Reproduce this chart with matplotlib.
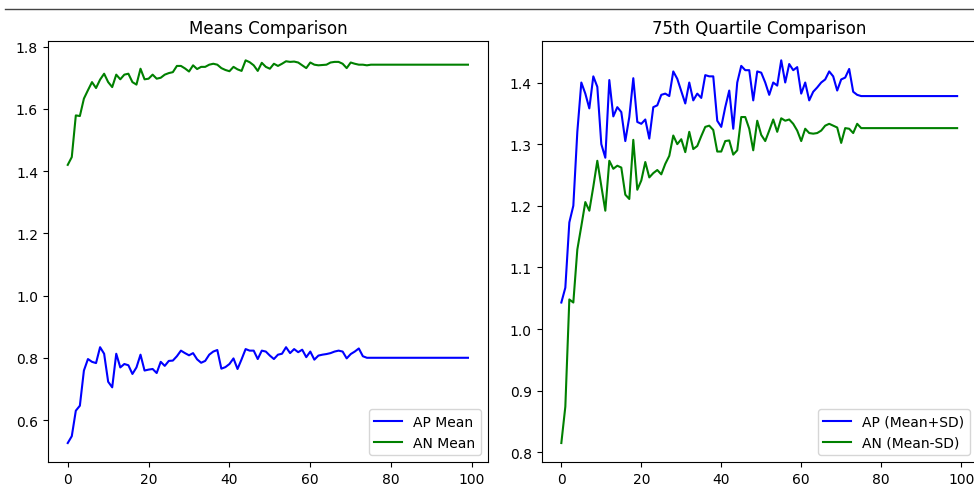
import numpy as np
import matplotlib
matplotlib.use('Agg')
from matplotlib import pyplot as plt
from matplotlib.lines import Line2D

N_STEPS = 100

# left panel: running means
ap_mean_head = [0.526, 0.548, 0.630, 0.646, 0.759, 0.796, 0.787, 0.783, 0.834, 0.813,
                0.723, 0.705, 0.813, 0.769, 0.780, 0.776, 0.748, 0.769, 0.810, 0.759,
                0.762, 0.764, 0.751, 0.787, 0.774, 0.790, 0.791, 0.805, 0.823, 0.815,
                0.808, 0.815, 0.795, 0.784, 0.790, 0.810, 0.820, 0.825, 0.765, 0.770,
                0.780, 0.798, 0.764, 0.795, 0.828, 0.823, 0.823, 0.796, 0.823, 0.820,
                0.807, 0.796, 0.810, 0.813, 0.834, 0.815, 0.828, 0.818, 0.826, 0.802,
                0.820, 0.794, 0.807, 0.810, 0.812, 0.815, 0.820, 0.823, 0.820, 0.798,
                0.812, 0.820, 0.830, 0.805, 0.800]
ap_mean_tail = 0.800

an_mean_head = [1.420, 1.445, 1.579, 1.577, 1.633, 1.660, 1.686, 1.667, 1.694, 1.713,
                1.686, 1.670, 1.710, 1.695, 1.710, 1.713, 1.686, 1.678, 1.729, 1.695,
                1.697, 1.710, 1.697, 1.700, 1.710, 1.715, 1.718, 1.738, 1.738, 1.730,
                1.720, 1.740, 1.728, 1.735, 1.735, 1.742, 1.745, 1.742, 1.731, 1.725,
                1.721, 1.735, 1.727, 1.722, 1.756, 1.750, 1.740, 1.722, 1.748, 1.735,
                1.729, 1.745, 1.738, 1.745, 1.753, 1.751, 1.752, 1.749, 1.740, 1.731,
                1.749, 1.742, 1.740, 1.741, 1.742, 1.749, 1.751, 1.751, 1.745, 1.731,
                1.749, 1.745, 1.742, 1.742, 1.740]
an_mean_tail = 1.742

# right panel: 75th quartile
ap_q75_head = [1.043, 1.067, 1.173, 1.200, 1.320, 1.400, 1.382, 1.358, 1.410, 1.393,
               1.300, 1.278, 1.404, 1.345, 1.360, 1.352, 1.305, 1.344, 1.407, 1.336,
               1.333, 1.340, 1.309, 1.360, 1.363, 1.380, 1.382, 1.378, 1.418, 1.406,
               1.386, 1.366, 1.400, 1.371, 1.382, 1.375, 1.412, 1.410, 1.410, 1.338,
               1.328, 1.360, 1.387, 1.325, 1.400, 1.427, 1.420, 1.420, 1.371, 1.418,
               1.416, 1.400, 1.380, 1.400, 1.395, 1.436, 1.400, 1.430, 1.420, 1.425,
               1.382, 1.400, 1.371, 1.385, 1.392, 1.400, 1.405, 1.418, 1.410, 1.387,
               1.405, 1.408, 1.422, 1.385, 1.380]
ap_q75_tail = 1.378

an_q75_head = [0.815, 0.874, 1.048, 1.043, 1.129, 1.167, 1.206, 1.192, 1.231, 1.273,
               1.232, 1.192, 1.273, 1.260, 1.265, 1.262, 1.218, 1.211, 1.307, 1.226,
               1.241, 1.271, 1.246, 1.253, 1.258, 1.251, 1.268, 1.281, 1.314, 1.300,
               1.308, 1.287, 1.320, 1.292, 1.297, 1.313, 1.328, 1.330, 1.323, 1.288,
               1.288, 1.305, 1.306, 1.283, 1.290, 1.344, 1.344, 1.325, 1.290, 1.338,
               1.315, 1.305, 1.322, 1.340, 1.320, 1.342, 1.338, 1.340, 1.333, 1.322,
               1.305, 1.325, 1.318, 1.317, 1.318, 1.322, 1.330, 1.333, 1.330, 1.327,
               1.302, 1.326, 1.325, 1.318, 1.333]
an_q75_tail = 1.326


def pad(head, tail, n=N_STEPS):
    """Hold the last (converged) value for the remaining steps."""
    return np.array(head + [tail] * (n - len(head)))


steps = np.arange(N_STEPS)

fig = plt.figure(figsize=(9.74, 4.85), dpi=100)
ax1 = fig.add_axes([0.049, 0.045, 0.452, 0.868])
ax2 = fig.add_axes([0.556, 0.045, 0.447, 0.868])

ax1.plot(steps, pad(ap_mean_head, ap_mean_tail), color='blue', label='AP Mean')
ax1.plot(steps, pad(an_mean_head, an_mean_tail), color='green', label='AN Mean')
ax1.set_title('Means Comparison')
ax1.set_yticks([0.6, 0.8, 1.0, 1.2, 1.4, 1.6, 1.8])
ax1.legend(loc='lower right')

ax2.plot(steps, pad(ap_q75_head, ap_q75_tail), color='blue', label='AP (Mean+SD)')
ax2.plot(steps, pad(an_q75_head, an_q75_tail), color='green', label='AN (Mean-SD)')
ax2.set_title('75th Quartile Comparison')
ax2.legend(loc='lower right')

for ax in (ax1, ax2):
    ax.set_xticks([0, 20, 40, 60, 80, 100])

# separator rule above the figure
fig.add_artist(Line2D([0.005, 1.0], [0.979, 0.979], color='#444444', lw=1.0))

fig.savefig('out.png', dpi=100)
